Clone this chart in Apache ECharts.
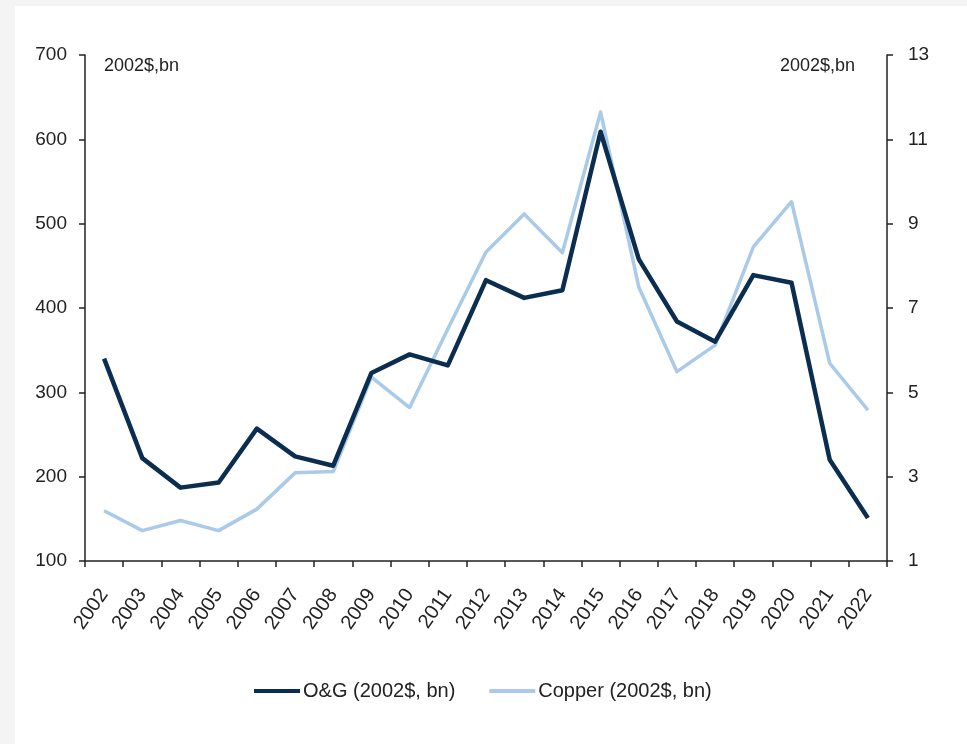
<!DOCTYPE html>
<html>
<head>
<meta charset="utf-8">
<script src="https://cdn.jsdelivr.net/npm/echarts@6/dist/echarts.min.js"></script>
<style>
  html, body { margin: 0; padding: 0; background: #f4f4f4; }
  #wrap { position: absolute; left: 15px; top: 6px; right: 0; bottom: 0; background: #ffffff; }
  #chart { position: absolute; left: -15px; top: -6px; width: 967px; height: 744px; }
</style>
</head>
<body>
<div id="wrap"><div id="chart"></div></div>
<script>
// Annual values, constant 2002 dollars (bn)
const years = ['2002','2003','2004','2005','2006','2007','2008','2009','2010','2011','2012',
               '2013','2014','2015','2016','2017','2018','2019','2020','2021','2022'];
const oilGas = [340, 222, 187, 193, 257, 224, 213, 323, 345, 332, 433,
                412, 421, 609, 458, 384, 360, 439, 430, 220, 151];
const copper = [2.19, 1.72, 1.96, 1.72, 2.23, 3.09, 3.12, 5.36, 4.64, 6.5, 8.33,
                9.23, 8.31, 11.65, 7.5, 5.49, 6.12, 8.45, 9.52, 5.69, 4.58];
const seriesNames = ['O&G (2002$, bn)', 'Copper (2002$, bn)'];
const unitLabel = '2002$,bn';

const FONT = '"Liberation Sans", Arial, sans-serif';
const AXIS = '#222';
const TEXT = '#222';
const OG_COLOR = '#0b2d4f';
const CU_COLOR = '#a9cae8';

const chart = echarts.init(document.getElementById('chart'), null, { renderer: 'canvas' });

const axisCommon = {
  axisLine: { show: true, lineStyle: { color: AXIS, width: 1.5 } },
  axisTick: { show: true, length: 6, lineStyle: { color: AXIS, width: 1.5 } },
  splitLine: { show: false }
};

chart.setOption({
  backgroundColor: 'transparent',
  animation: false,
  grid: { left: 85, right: 80, top: 55, bottom: 183 },
  legend: {
    data: [
      { name: seriesNames[0], itemStyle: { color: OG_COLOR } },
      { name: seriesNames[1], itemStyle: { color: CU_COLOR } }
    ],
    bottom: 38,
    left: 249,
    icon: 'rect',
    itemWidth: 46,
    itemHeight: 4,
    itemGap: 34,
    textStyle: { color: TEXT, fontSize: 20, fontFamily: FONT, padding: [0, 0, 0, -2] }
  },
  xAxis: {
    type: 'category',
    data: years,
    boundaryGap: true,
    ...axisCommon,
    axisLabel: { color: TEXT, fontSize: 20, fontFamily: FONT, rotate: 55, margin: 30, interval: 0 }
  },
  yAxis: [
    {
      type: 'value', position: 'left', min: 100, max: 700, interval: 100,
      ...axisCommon,
      axisLabel: { color: TEXT, fontSize: 19, fontFamily: FONT, margin: 18 }
    },
    {
      type: 'value', position: 'right', min: 1, max: 13, interval: 2,
      ...axisCommon,
      axisLabel: { color: TEXT, fontSize: 19, fontFamily: FONT, margin: 21 }
    }
  ],
  graphic: [
    { type: 'text', left: 104, top: 57, style: { text: unitLabel, fill: TEXT, font: '18px ' + FONT } },
    { type: 'text', right: 112, top: 57, style: { text: unitLabel, fill: TEXT, font: '18px ' + FONT } }
  ],
  series: [
    {
      name: seriesNames[0], type: 'line', yAxisIndex: 0, data: oilGas, z: 3,
      symbol: 'none', lineStyle: { color: OG_COLOR, width: 4.5, join: 'round' },
      itemStyle: { color: OG_COLOR }
    },
    {
      name: seriesNames[1], type: 'line', yAxisIndex: 1, data: copper, z: 2,
      symbol: 'none', lineStyle: { color: CU_COLOR, width: 3.5, join: 'round' },
      itemStyle: { color: CU_COLOR }
    }
  ]
});
</script>
</body>
</html>
